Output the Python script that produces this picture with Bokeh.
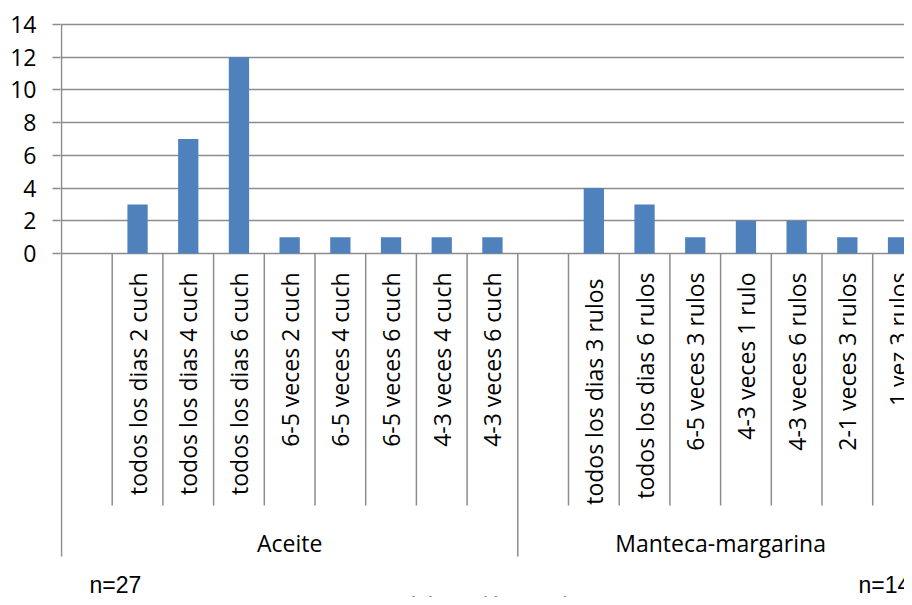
import math
from bokeh.plotting import figure
from bokeh.models import FixedTicker, Range1d, ColumnDataSource
from bokeh.core.properties import value
from bokeh.embed import file_html
from bokeh.resources import INLINE

# ---- data ----
groups = ["Aceite", "Manteca-margarina"]
aceite_labels = ["todos los dias 2 cuch", "todos los dias 4 cuch", "todos los dias 6 cuch",
                 "6-5 veces 2 cuch", "6-5 veces 4 cuch", "6-5 veces 6 cuch",
                 "4-3 veces 4 cuch", "4-3 veces 6 cuch"]
aceite_values = [3, 7, 12, 1, 1, 1, 1, 1]
manteca_labels = ["todos los dias  3 rulos", "todos los dias 6 rulos", "6-5 veces 3 rulos",
                  "4-3 veces 1 rulo", "4-3 veces 6 rulos", "2-1 veces 3 rulos", "1 vez 3 rulos"]
manteca_values = [4, 3, 1, 2, 2, 1, 1]
y_ticks = [0, 2, 4, 6, 8, 10, 12, 14]
n_labels = ["n=27", "n=14"]
source_note = "Fuente: Elaboración propia"

# ---- layout helpers ----
PX = 229.0 / 14.0          # pixels per y unit
SLOT = 50.7                # pixels per category slot
W, H = 904, 597
def ry(v):                 # pixel row -> data y
    return (253.0 - v) / PX
def rx(v):                 # pixel column -> data x
    return (v - 61.0) / SLOT

FONT = "Open Sans"
BAR = "#4F81BD"
GRID = "#8C8C8C"

# slots: blank + group items per group
cats, vals, centers = [], [], []
group_bounds = []
pos = 0
for labels, values in [(aceite_labels, aceite_values), (manteca_labels, manteca_values)]:
    start = pos
    pos += 1  # empty leading slot
    for lab, v in zip(labels, values):
        cats.append(lab)
        vals.append(v)
        centers.append(pos + 0.5)
        pos += 1
    group_bounds.append((start, pos))

p = figure(width=W, height=H,
           x_range=Range1d(rx(60), rx(W)), y_range=Range1d(ry(H), ry(20)),
           output_backend="svg", toolbar_location=None, x_axis_location=None,
           min_border_left=60, min_border_right=0, min_border_top=20, min_border_bottom=0)
p.outline_line_color = None
p.background_fill_color = "white"
p.border_fill_color = "white"

# y axis
p.yaxis.ticker = FixedTicker(ticks=y_ticks)
p.yaxis.axis_line_color = None
p.yaxis.major_tick_line_color = GRID
p.yaxis.major_tick_line_width = 1.5
p.yaxis.major_tick_out = 8
p.yaxis.major_tick_in = 0
p.yaxis.minor_tick_line_color = None
p.yaxis.major_label_text_font = FONT
p.yaxis.major_label_text_font_size = "23px"
p.yaxis.major_label_text_color = "black"
p.yaxis.major_label_standoff = 16
p.xgrid.visible = False
p.ygrid.ticker = FixedTicker(ticks=y_ticks)
p.ygrid.grid_line_color = GRID
p.ygrid.grid_line_width = 1.5

# bars
src = ColumnDataSource(dict(x=centers, top=vals, cat=cats))
p.vbar(x="x", top="top", bottom=0, width=0.4, source=src, fill_color=BAR, line_color=None)

# category axis lines
short_x = [b for b in range(1, pos) if b not in [g[0] for g in group_bounds]]
p.segment(x0=short_x, y0=[0] * len(short_x), x1=short_x, y1=[ry(505)] * len(short_x),
          line_color=GRID, line_width=1.5)
long_x = [g[0] for g in group_bounds] + [pos]
p.segment(x0=long_x, y0=[0] * len(long_x), x1=long_x, y1=[ry(556)] * len(long_x),
          line_color=GRID, line_width=1.5)
# y axis line
p.segment(x0=[0], y0=[14], x1=[0], y1=[0], line_color=GRID, line_width=1.5)

# category labels
p.text(x=centers, y=[ry(272)] * len(centers), text=cats, angle=math.pi / 2,
       text_align="right", text_baseline="middle", text_font=value(FONT),
       text_font_size="23px", text_color="black")

# group labels
gx = [(a + b) / 2 for a, b in group_bounds]
p.text(x=gx, y=[ry(542)] * len(gx), text=groups, text_align="center",
       text_baseline="middle", text_font=value(FONT), text_font_size="23px",
       text_color="black")

# notes below
p.text(x=[rx(89), rx(858)], y=[ry(584)] * 2, text=n_labels, text_align="left",
       text_baseline="middle", text_font=value("Liberation Sans"),
       text_font_size="23px", text_color="black")
p.text(x=[rx(315)], y=[ry(604)], text=[source_note], text_align="left",
       text_baseline="middle", text_font=value("Liberation Sans"),
       text_font_size="22px", text_color="#808080")

open("out.html", "w").write(file_html(p, INLINE))
